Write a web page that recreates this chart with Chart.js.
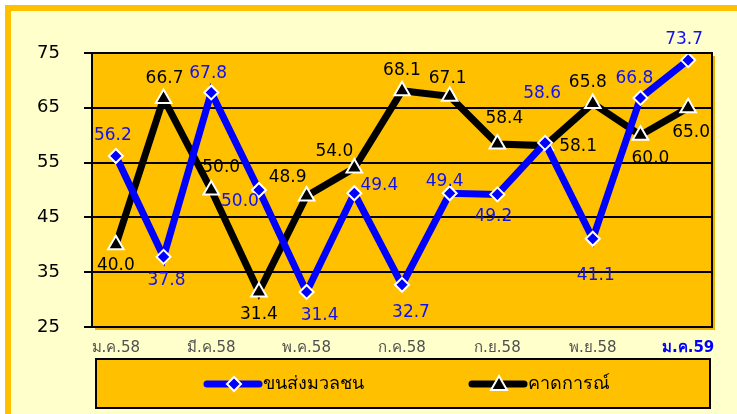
<!DOCTYPE html>
<html>
<head>
<meta charset="utf-8">
<script src="https://cdn.jsdelivr.net/npm/chart.js@4"></script>
<style>
  html, body { margin: 0; padding: 0; background: #fff; }
  #frame {
    position: absolute; left: 5px; top: 5px; width: 732px; height: 409px;
    box-sizing: border-box; border-top: 6px solid #FFC000; border-left: 6px solid #FFC000;
    background: #FFFFCC;
  }
  #wrap { position: absolute; left: 0; top: 0; width: 737px; height: 414px; }
</style>
</head>
<body>
<div id="frame"></div>
<div id="wrap"><canvas id="myChart"></canvas></div>
<script>
const months = ["ม.ค.58", "ก.พ.58", "มี.ค.58", "เม.ย.58", "พ.ค.58", "มิ.ย.58", "ก.ค.58",
  "ส.ค.58", "ก.ย.58", "ต.ค.58", "พ.ย.58", "ธ.ค.58", "ม.ค.59"];
const transitValues = [56.2, 37.8, 67.8, 50.0, 31.4, 49.4, 32.7, 49.4, 49.2, 58.6, 41.1, 66.8, 73.7];
const forecastValues = [40.0, 66.7, 50.0, 31.4, 48.9, 54.0, 68.1, 67.1, 58.4, 58.1, 65.8, 60.0, 65.0];
const seriesNames = ["ขนส่งมวลชน", "คาดการณ์"];
const yTicks = [25, 35, 45, 55, 65, 75];

// where each value label sits relative to its point: [dx, dy]
const transitLabelPos = [[-3, -20], [3, 24], [-3, -19], [-19, 12], [13, 24], [25, -8], [9, 28],
  [-5, -12], [-4, 22], [-3, -49], [3, 37], [-6, -19], [-4, -21]];
const forecastLabelPos = [[0, 21], [1, -20], [10, -22], [0, 23], [-19, -18], [-20, -17], [0, -20],
  [-2, -18], [7, -25], [33, 1], [-5, -21], [10, 23], [3, 25]];

const FONT = "Tahoma, 'DejaVu Sans', sans-serif";

const plotBg = {
  id: "plotBg",
  beforeDraw(chart) {
    const { ctx, chartArea: a } = chart;
    ctx.save();
    ctx.fillStyle = "#F0B400";
    ctx.fillRect(a.left + 3, a.top + 3, a.right - a.left, a.bottom - a.top);
    ctx.fillStyle = "#FFC000";
    ctx.fillRect(a.left, a.top, a.right - a.left, a.bottom - a.top);
    ctx.restore();
  },
  afterDatasetsDraw(chart) {
    const { ctx, chartArea: a } = chart;
    ctx.save();
    ctx.strokeStyle = "#000";
    ctx.lineWidth = 2;
    ctx.strokeRect(a.left, a.top, a.right - a.left, a.bottom - a.top);
    ctx.restore();
  },
};

const valueLabels = {
  id: "valueLabels",
  afterDatasetsDraw(chart) {
    const ctx = chart.ctx;
    const posList = [transitLabelPos, forecastLabelPos];
    ctx.save();
    ctx.font = "17px " + FONT;
    ctx.textAlign = "center";
    ctx.textBaseline = "middle";
    chart.data.datasets.forEach((ds, di) => {
      const meta = chart.getDatasetMeta(di);
      ctx.fillStyle = di === 0 ? "#1010F0" : "#000";
      meta.data.forEach((pt, i) => {
        const p = posList[di][i];
        ctx.fillText(ds.data[i].toFixed(1), pt.x + p[0], pt.y + p[1]);
      });
    });
    ctx.restore();
  },
};

const legendBox = {
  id: "legendBox",
  afterDraw(chart) {
    const ctx = chart.ctx;
    ctx.save();
    ctx.fillStyle = "#FFC000";
    ctx.fillRect(96, 359, 614, 49);
    ctx.strokeStyle = "#000";
    ctx.lineWidth = 2;
    ctx.strokeRect(96, 359, 614, 49);
    const items = [
      { x: 207, color: "#0000FF", style: "diamond" },
      { x: 472, color: "#000", style: "triangle" },
    ];
    const y = 384;
    items.forEach((it, i) => {
      ctx.strokeStyle = it.color;
      ctx.lineWidth = 7;
      ctx.lineCap = "round";
      ctx.beginPath();
      ctx.moveTo(it.x, y);
      ctx.lineTo(it.x + 52, y);
      ctx.stroke();
      const cx = it.x + 27;
      ctx.fillStyle = it.color;
      ctx.strokeStyle = "#fff";
      ctx.lineWidth = 2;
      ctx.beginPath();
      if (it.style === "diamond") {
        ctx.moveTo(cx, y - 7); ctx.lineTo(cx + 7, y); ctx.lineTo(cx, y + 7); ctx.lineTo(cx - 7, y);
      } else {
        ctx.moveTo(cx, y - 8); ctx.lineTo(cx + 8, y + 6); ctx.lineTo(cx - 8, y + 6);
      }
      ctx.closePath();
      ctx.fill();
      ctx.stroke();
      ctx.fillStyle = "#000";
      ctx.font = "18px " + FONT;
      ctx.textAlign = "left";
      ctx.textBaseline = "middle";
      ctx.fillText(seriesNames[i], it.x + 56, y);
    });
    ctx.restore();
  },
};

function createChart() {
  const ctx = document.getElementById("myChart").getContext("2d");
  new Chart(ctx, {
    type: "line",
    data: {
      labels: months,
      datasets: [
        {
          label: seriesNames[0],
          data: transitValues,
          borderColor: "#0000FF",
          backgroundColor: "#0000FF",
          borderWidth: 7,
          pointStyle: "rectRot",
          pointRadius: 7,
          pointBorderColor: "#fff",
          pointBorderWidth: 2,
          tension: 0,
        },
        {
          label: seriesNames[1],
          data: forecastValues,
          borderColor: "#000",
          backgroundColor: "#000",
          borderWidth: 7,
          pointStyle: "triangle",
          pointRadius: 9,
          pointBorderColor: "#fff",
          pointBorderWidth: 2,
          tension: 0,
        },
      ],
    },
    options: {
      responsive: true,
      maintainAspectRatio: false,
      animation: false,
      layout: { padding: { left: 12, top: 53, right: 25, bottom: 57 } },
      scales: {
        x: {
          offset: true,
          grid: { display: false },
          border: { display: false },
          afterFit(scale) { scale.height = 30; },
          ticks: {
            autoSkip: false,
            maxRotation: 0,
            padding: 4,
            callback: (v, i) => (i % 2 === 0 ? months[i] : ""),
            color: (c) => (c.index === 12 ? "#0000FF" : "#505050"),
            font: (c) => ({ family: FONT, size: 15, weight: c.index === 12 ? "bold" : "normal" }),
          },
        },
        y: {
          min: 25,
          max: 75,
          afterBuildTicks(scale) { scale.ticks = yTicks.map((v) => ({ value: v })); },
          afterFit(scale) { scale.width = 80; },
          grid: { color: "#000", lineWidth: 2, tickLength: 8, drawTicks: true },
          border: { display: false },
          ticks: { color: "#000", padding: 24, font: { family: FONT, size: 18 } },
        },
      },
      plugins: {
        legend: { display: false },
        tooltip: { enabled: false },
      },
    },
    plugins: [plotBg, valueLabels, legendBox],
  });
}

createChart();
</script>
</body>
</html>
